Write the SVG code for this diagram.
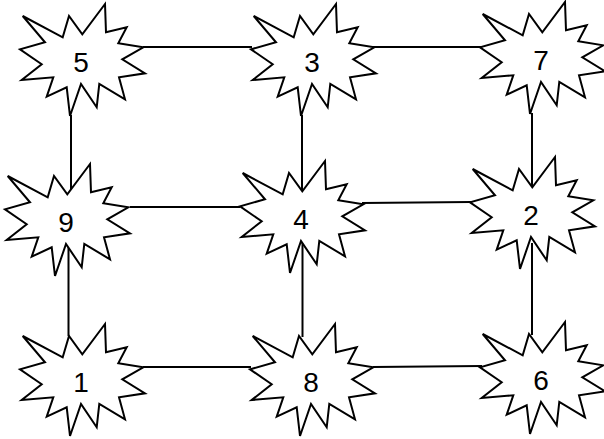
<svg xmlns="http://www.w3.org/2000/svg" xmlns:xlink="http://www.w3.org/1999/xlink" width="604" height="439" viewBox="0 0 604 439">
<style>
.bg{fill:#fff}
.star{fill:#fff;stroke:#000;stroke-width:2;stroke-linejoin:miter}
.edge{stroke:#000;stroke-width:2;fill:none}
.lbl{font-family:"Liberation Sans",Arial,sans-serif;font-size:28px;fill:#000;text-anchor:middle}
</style>
<defs>
<path id="seal" d="M22.7,16 L62.7,37.3 L69,16 L82.3,34.3 L105,4 L106,32.3 L126.7,27.3 L118.3,43.3 L143.3,47.3 L122.3,59.3 L145,73.3 L119,77.3 L125,99.3 L99.3,84 L96.7,107.3 L81,84 L70,116 L66.7,87.3 L46.7,96.7 L53.3,77.3 L21.7,80 L41.7,64.3 L20,49.3 L45,42.3 Z"/>
</defs>
<rect class="bg" x="0" y="0" width="604" height="439"/>
<g id="connectors">
<line class="edge" x1="143" y1="47" x2="252" y2="47"/>
<line class="edge" x1="373" y1="47" x2="482" y2="47"/>
<line class="edge" x1="71" y1="115" x2="71" y2="194"/>
<line class="edge" x1="302" y1="115" x2="302" y2="191"/>
<line class="edge" x1="532" y1="113" x2="532" y2="188"/>
<line class="edge" x1="130" y1="207" x2="240" y2="207"/>
<line class="edge" x1="362" y1="203" x2="471" y2="202"/>
<line class="edge" x1="68.5" y1="243" x2="68.5" y2="336"/>
<line class="edge" x1="302.5" y1="241" x2="302.5" y2="337"/>
<line class="edge" x1="532" y1="243" x2="532" y2="335"/>
<line class="edge" x1="143" y1="367" x2="251" y2="367"/>
<line class="edge" x1="373" y1="367" x2="482" y2="366"/>
</g>
<g id="node5" transform="translate(0,0)"><use xlink:href="#seal" class="star"/><text class="lbl" x="81" y="72">5</text></g>
<g id="node3" transform="translate(231,0)"><use xlink:href="#seal" class="star"/><text class="lbl" x="81" y="72">3</text></g>
<g id="node7" transform="translate(460,-2)"><use xlink:href="#seal" class="star"/><text class="lbl" x="81" y="72">7</text></g>
<g id="node9" transform="translate(-15,160)"><use xlink:href="#seal" class="star"/><text class="lbl" x="81" y="72">9</text></g>
<g id="node4" transform="translate(220,157)"><use xlink:href="#seal" class="star"/><text class="lbl" x="81" y="72">4</text></g>
<g id="node2" transform="translate(450,153)"><use xlink:href="#seal" class="star"/><text class="lbl" x="81" y="72">2</text></g>
<g id="node1" transform="translate(0,320)"><use xlink:href="#seal" class="star"/><text class="lbl" x="81" y="72">1</text></g>
<g id="node8" transform="translate(230,320)"><use xlink:href="#seal" class="star"/><text class="lbl" x="81" y="72">8</text></g>
<g id="node6" transform="translate(460,318)"><use xlink:href="#seal" class="star"/><text class="lbl" x="81" y="72">6</text></g>
</svg>
